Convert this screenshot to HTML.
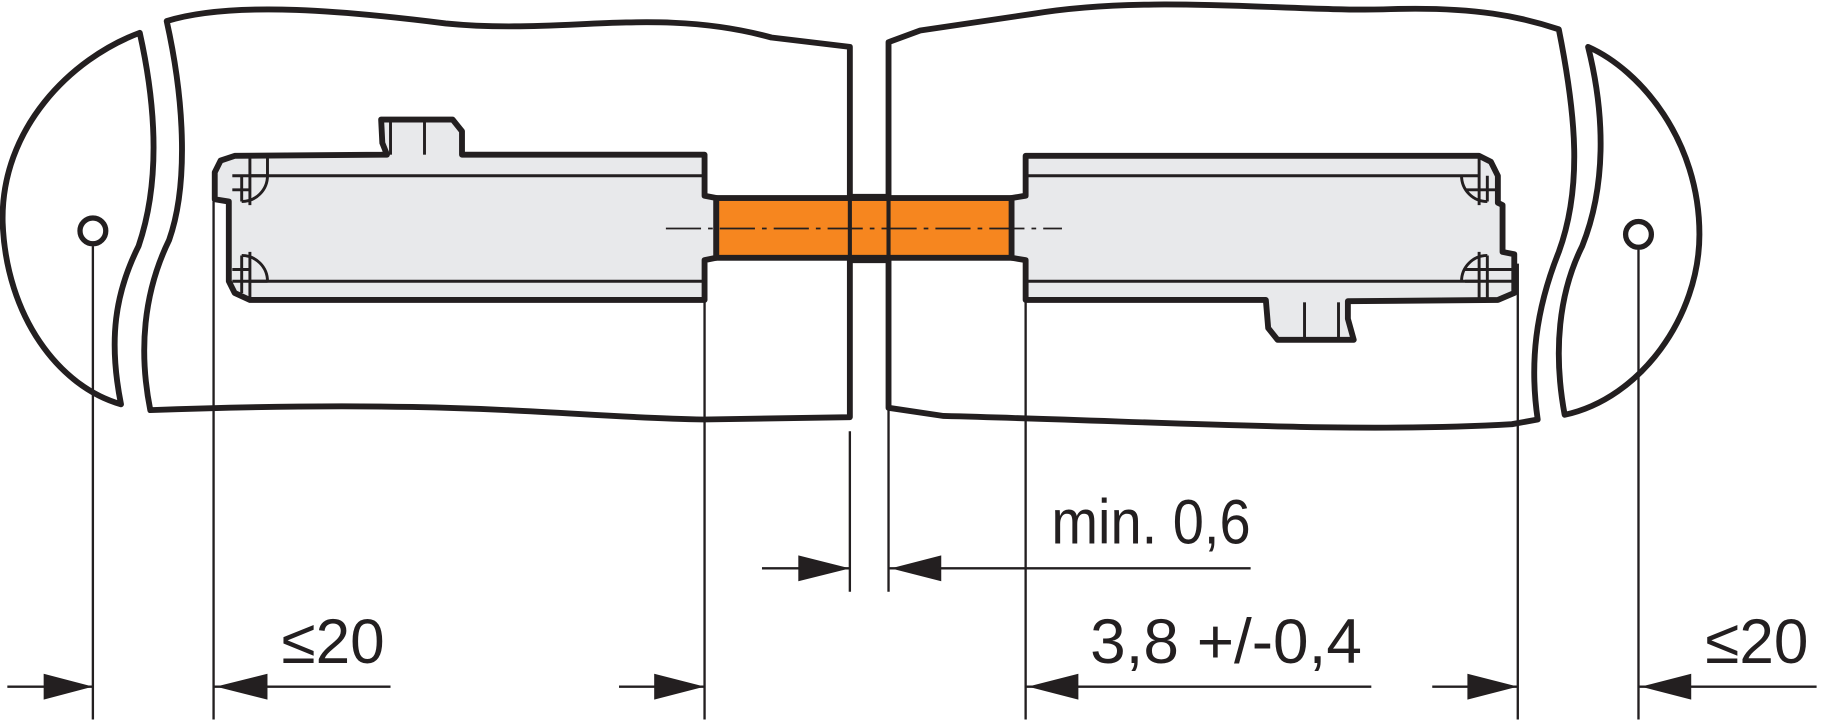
<!DOCTYPE html>
<html><head><meta charset="utf-8"><style>html,body{margin:0;padding:0;background:#fff}svg{display:block}</style></head>
<body>
<svg width="1838" height="723" viewBox="0 0 1568 617" xmlns="http://www.w3.org/2000/svg" font-family="Liberation Sans, sans-serif">
<g fill="none" stroke="#231f20" stroke-width="5" stroke-linejoin="round">
<path d="M142,18 C200,0 300,10 380,20 C480,30 560,5 658,32 L725,40 L725,356 L600,358 C480,356 400,340 128,350 C118,300 122,250 144,205 C160,160 158,90 142,18 Z"/>
<path d="M119,28 C60,50 0,110 2,190 C5,270 50,330 103,345 C92,290 98,250 118,210 C135,160 135,100 119,28 Z"/>
<path d="M758,36 L785,26 L880,12 C980,-5 1100,10 1180,8 C1260,5 1300,15 1330,25 C1345,100 1350,160 1330,215 C1310,265 1305,310 1312,358 L1290,362 C1150,370 1000,360 805,355 L758,348 Z"/>
<path d="M1355,40 C1400,60 1450,120 1450,200 C1450,270 1400,340 1335,354 C1325,300 1330,250 1350,210 C1370,160 1370,100 1355,40 Z"/>
</g>
<g stroke="#231f20" stroke-linejoin="round">
<path d="M325,102 L386,102 L394,112 L394,132 L601,132 L601,167 L611,169 L611,220 L601,222 L601,256 L213,256 L200,250 L195,240 L195,172 L183,170 L183,147 L188,137 L200,133 L330,132 L326,122 Z" fill="#e8e9eb" stroke-width="5"/>
<path d="M1155,290 L1090,290 L1082,280 L1080,256 L875,256 L875,222 L863,220 L863,169 L875,167 L875,133 L1262,133 L1272,138 L1278,150 L1278,173 L1282,175 L1282,215 L1292,217 L1292,250 L1278,256 L1150,257 L1150,272 Z" fill="#e8e9eb" stroke-width="5"/>
<g fill="none" stroke-width="2.5">
<line x1="213" y1="150" x2="601" y2="150"/><line x1="213" y1="240" x2="601" y2="240"/>
<line x1="875" y1="150" x2="1262" y2="150"/><line x1="875" y1="240" x2="1262" y2="240"/>
<line x1="362" y1="104" x2="362" y2="132"/><line x1="333" y1="104" x2="333" y2="132"/>
<line x1="1113" y1="258" x2="1113" y2="288"/><line x1="1142" y1="258" x2="1142" y2="288"/>
<path d="M213,133 V175 M228,133 V150 A22,22 0 0 1 206,172 M198,150 H228 M198,162 H213 M206,150 V172"/>
<path d="M213,256 V215 M228,240 A22,22 0 0 0 206,218 M198,230 H213 M198,240 H228 M206,218 V250"/>
<path d="M1262,133 V175 M1247,150 A22,22 0 0 0 1269,172 M1250,162 H1278 M1269,150 V172"/>
<path d="M1262,256 V215 M1247,240 A22,22 0 0 1 1269,218 M1250,230 H1292 M1250,240 H1290 M1269,218 V256"/>
</g>
</g>
<rect x="611" y="169" width="252" height="51" fill="#f6861f" stroke="#231f20" stroke-width="5"/>
<line x1="725" y1="160" x2="725" y2="229" stroke="#231f20" stroke-width="3.5"/>
<line x1="758" y1="160" x2="758" y2="229" stroke="#231f20" stroke-width="3.5"/>
<line x1="725" y1="168" x2="758" y2="168" stroke="#231f20" stroke-width="5"/>
<line x1="725" y1="222" x2="758" y2="222" stroke="#231f20" stroke-width="5"/>
<line x1="568" y1="195" x2="906" y2="195" stroke="#231f20" stroke-width="1.5" stroke-dasharray="30,6,4,6"/>
<circle cx="79" cy="197" r="11" fill="#fff" stroke="#231f20" stroke-width="4.5"/>
<circle cx="1398" cy="200" r="11" fill="#fff" stroke="#231f20" stroke-width="4.5"/>
<g stroke="#231f20" stroke-width="2">
<line x1="79" y1="210" x2="79" y2="614"/><line x1="182" y1="172" x2="182" y2="614"/>
<line x1="601" y1="258" x2="601" y2="614"/><line x1="725" y1="368" x2="725" y2="505"/>
<line x1="758" y1="348" x2="758" y2="505"/><line x1="875" y1="258" x2="875" y2="614"/>
<line x1="1295" y1="225" x2="1295" y2="614"/><line x1="1398" y1="213" x2="1398" y2="614"/>
<line x1="6" y1="586" x2="79" y2="586"/><line x1="182" y1="586" x2="333" y2="586"/>
<line x1="528" y1="586" x2="601" y2="586"/><line x1="875" y1="586" x2="1170" y2="586"/>
<line x1="1222" y1="586" x2="1295" y2="586"/><line x1="1398" y1="586" x2="1550" y2="586"/>
<line x1="650" y1="485" x2="725" y2="485"/><line x1="758" y1="485" x2="1067" y2="485"/>
</g>
<g fill="#231f20">
<polygon points="79,586 37,575 37,597"/><polygon points="184,586 228,575 228,597"/>
<polygon points="601,586 558,575 558,597"/><polygon points="877,586 920,575 920,597"/>
<polygon points="1295,586 1252,575 1252,597"/><polygon points="1400,586 1443,575 1443,597"/>
<polygon points="725,485 681,474 681,496"/><polygon points="760,485 803,474 803,496"/>
</g>
<g fill="#231f20" font-size="54">
<text x="240" y="566" textLength="88" lengthAdjust="spacingAndGlyphs">≤20</text>
<text x="1455" y="566" textLength="88" lengthAdjust="spacingAndGlyphs">≤20</text>
<text x="930" y="566" textLength="232" lengthAdjust="spacingAndGlyphs">3,8 +/-0,4</text>
<text x="897" y="464" textLength="170" lengthAdjust="spacingAndGlyphs">min. 0,6</text>
</g>
</svg>
</body></html>
